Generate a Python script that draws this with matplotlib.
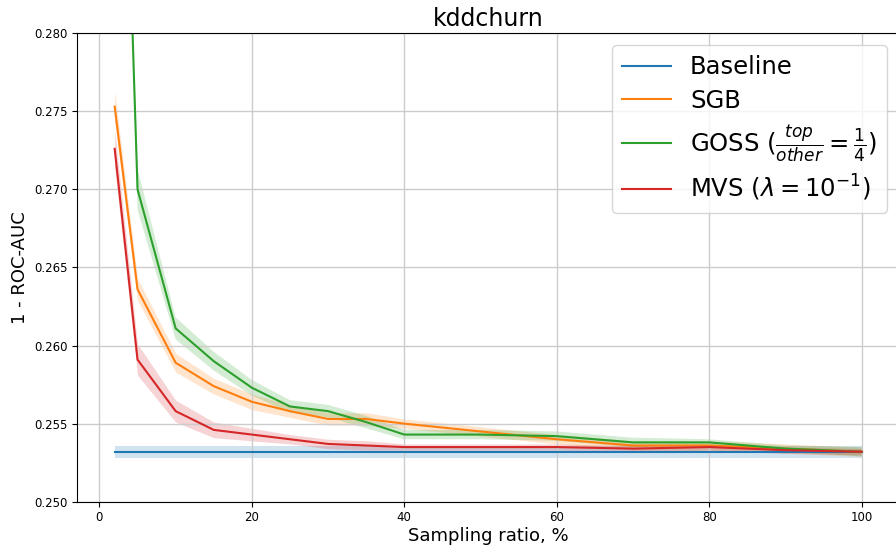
import numpy as np
import matplotlib
matplotlib.use('Agg')
import matplotlib.pyplot as plt

# sampling ratio, %
ratios = [2, 5, 10, 15, 20, 25, 30, 35, 40, 50, 60, 70, 80, 90, 100]

baseline_mean = 0.2532
baseline_std = 0.0004

sgb_mean = [0.2753, 0.2636, 0.2589, 0.2574, 0.2564, 0.2558, 0.2553, 0.2553, 0.2550,
            0.2545, 0.2540, 0.2536, 0.2536, 0.2534, 0.2532]
sgb_std = [0.0010, 0.0007, 0.0006, 0.0005, 0.0005, 0.0004, 0.0004, 0.0004, 0.0003,
           0.0003, 0.0003, 0.0003, 0.0003, 0.0003, 0.0003]

goss_mean = [0.3160, 0.2700, 0.2611, 0.2590, 0.2573, 0.2561, 0.2558, 0.2551, 0.2543,
             0.2543, 0.2542, 0.2538, 0.2538, 0.2534, 0.2532]
goss_std = [0.0015, 0.0013, 0.0007, 0.0006, 0.0005, 0.0004, 0.0004, 0.0004, 0.0003,
            0.0003, 0.0003, 0.0003, 0.0002, 0.0002, 0.0003]

mvs_mean = [0.2726, 0.2591, 0.2558, 0.2546, 0.2543, 0.2540, 0.2537, 0.2536, 0.2535,
            0.2535, 0.2535, 0.2534, 0.2535, 0.2533, 0.2532]
mvs_std = [0.0012, 0.0010, 0.0007, 0.0005, 0.0004, 0.0003, 0.0003, 0.0003, 0.0002,
           0.0002, 0.0002, 0.0002, 0.0002, 0.0002, 0.0002]

labels = ['Baseline', 'SGB', r'GOSS ($\frac{top}{other} = \frac{1}{4}$)',
          r'MVS ($\lambda = 10^{-1}$)']

fig = plt.figure(figsize=(8.96, 5.46), dpi=100)
ax = fig.add_axes([0.0863, 0.0811, 0.917, 0.858])

x = np.array(ratios)
base = np.full(len(x), baseline_mean)
ax.plot(x, base, color='C0', lw=1.5, label=labels[0])
ax.fill_between(x, base - baseline_std, base + baseline_std, color='C0', alpha=0.2, lw=0)

for i, (m, s) in enumerate([(sgb_mean, sgb_std), (goss_mean, goss_std), (mvs_mean, mvs_std)]):
    m = np.array(m)
    s = np.array(s)
    ax.plot(x, m, color='C%d' % (i + 1), lw=1.5, label=labels[i + 1])
    ax.fill_between(x, m - s, m + s, color='C%d' % (i + 1), alpha=0.2, lw=0)

ax.set_ylim(0.25, 0.28)
ax.set_xlim(-2.9, 104.9)
ax.set_yticks([0.250, 0.255, 0.260, 0.265, 0.270, 0.275, 0.280])
ax.set_yticklabels(['%.3f' % v for v in ax.get_yticks()])
ax.tick_params(labelsize=8.5)
ax.grid(True, color='#cccccc', lw=1.0)
ax.set_title('kddchurn', fontsize=17, pad=5)
ax.set_xlabel('Sampling ratio, %', fontsize=13, labelpad=2)
ax.set_ylabel('1 - ROC-AUC', fontsize=13)
ax.legend(loc='upper right', fontsize=17.5, labelspacing=0.4)

fig.savefig('out.png', dpi=100)
